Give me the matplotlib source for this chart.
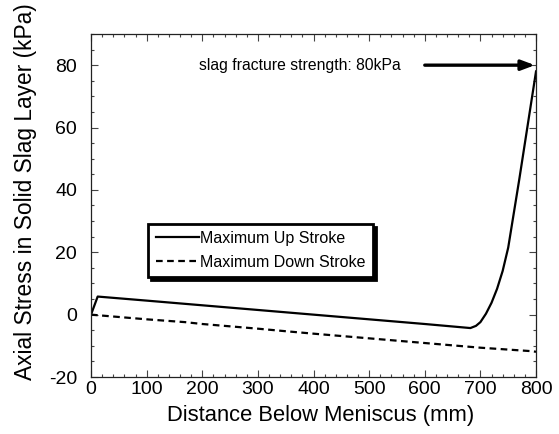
import numpy as np
import matplotlib
matplotlib.use('Agg')
import matplotlib.pyplot as plt
from matplotlib.ticker import MultipleLocator

plt.rcParams['font.family'] = ['Liberation Sans', 'DejaVu Sans']
plt.rcParams['axes.unicode_minus'] = False

# Maximum up stroke: short rise, slow linear fall, then sharp rise near mould exit
dist_up = [0, 12, 100, 200, 300, 400, 500, 600, 682, 692, 700, 710, 720, 730,
           740, 750, 760, 770, 780, 790, 800]
stress_up = [0.0, 5.8, 4.5, 3.0, 1.5, 0.0, -1.5, -3.0, -4.3, -3.6, -2.4, 0.3, 3.8,
             8.3, 14.0, 21.5, 32.5, 43.5, 55.0, 66.5, 78.0]

# Maximum down stroke
dist_down = [0, 100, 169, 200, 300, 349, 400, 500, 520, 600, 700, 791, 800]
stress_down = [0.0, -1.5, -2.4, -3.0, -4.5, -5.3, -6.1, -7.6, -7.9, -9.1, -10.6, -11.7, -11.9]

fracture_strength = 80

fig = plt.figure(figsize=(5.59, 4.34), dpi=100)
ax = fig.add_axes([0.1628, 0.1313, 0.7961, 0.7904])

ax.plot(dist_up, stress_up, color='black', lw=1.6, label='Maximum Up Stroke')
ax.plot(dist_down, stress_down, color='black', lw=1.6, linestyle=(0, (3, 2)),
        label='Maximum Down Stroke')

# fracture strength marker
ax.annotate('', xy=(798, fracture_strength), xytext=(600, fracture_strength),
            arrowprops=dict(arrowstyle='-|>,head_length=0.8,head_width=0.3',
                            color='black', lw=2.4, shrinkA=0, shrinkB=0))
ax.text(194, fracture_strength, 'slag fracture strength: 80kPa', fontsize=11.3,
        va='center', ha='left')

ax.set_xlim(0, 800)
ax.set_ylim(-20, 90)
ax.xaxis.set_major_locator(MultipleLocator(100))
ax.xaxis.set_minor_locator(MultipleLocator(20))
ax.yaxis.set_major_locator(MultipleLocator(20))
ax.yaxis.set_minor_locator(MultipleLocator(5))
ax.tick_params(which='both', direction='in', top=True, right=True, labelsize=14,
               color='#444444', width=0.8)
ax.tick_params(which='major', length=5)
ax.tick_params(which='minor', length=2.5)
ax.tick_params(axis='x', which='major', pad=3)
ax.tick_params(axis='y', which='major', pad=10)
for sp in ax.spines.values():
    sp.set_linewidth(0.9)
    sp.set_color('#222222')

ax.set_xlabel('Distance Below Meniscus (mm)', fontsize=15.8)
ax.set_ylabel('Axial Stress in Solid Slag Layer (kPa)', fontsize=16.4)
ax.xaxis.set_label_coords(0.517, -0.083)
ax.yaxis.set_label_coords(-0.121, 0.541)

leg = ax.legend(loc='lower left', bbox_to_anchor=(0.129, 0.292), borderaxespad=0,
                fontsize=11.5, fancybox=False, edgecolor='black', framealpha=1,
                handlelength=2.7, handletextpad=0.1, labelspacing=0.55,
                borderpad=0.45, shadow={'color': 'black', 'alpha': 1, 'ox': 2.2, 'oy': -2.2})
leg.get_frame().set_linewidth(2)

fig.savefig('out.png', dpi=100)
